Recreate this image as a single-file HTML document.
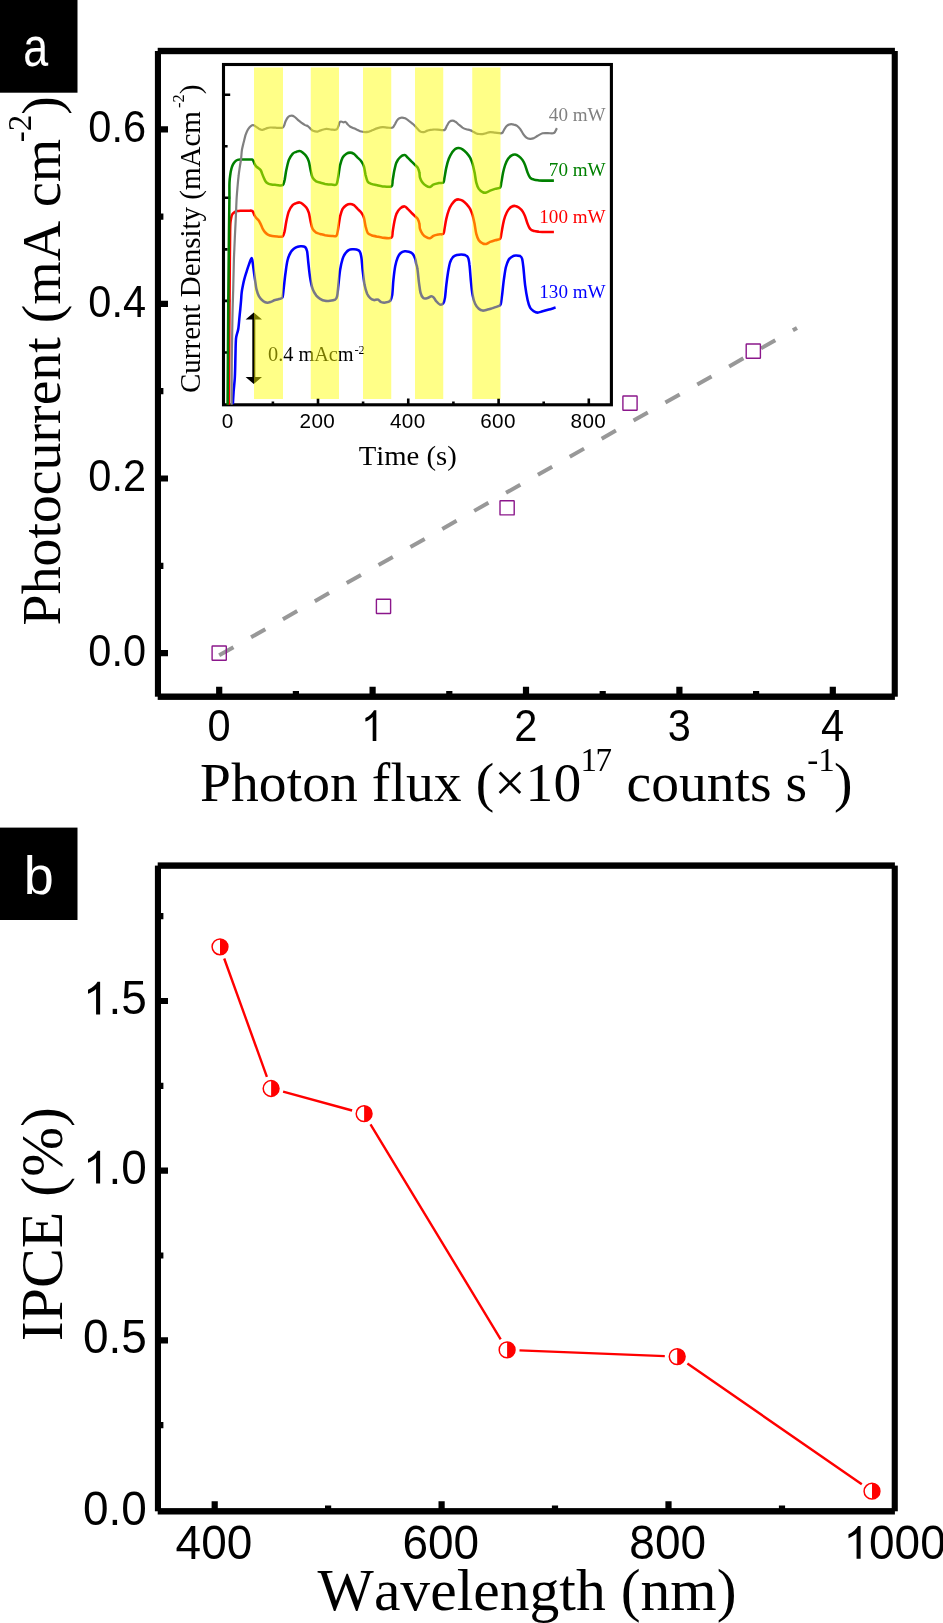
<!DOCTYPE html>
<html><head><meta charset="utf-8"><title>Figure</title>
<style>html,body{margin:0;padding:0;background:#fff}svg{display:block;will-change:transform}text{font-kerning:none}</style></head>
<body>
<svg width="943" height="1623" viewBox="0 0 943 1623">
<rect width="943" height="1623" fill="#fff"/>
<line x1="219.2" y1="655.3" x2="797" y2="328.0" stroke="#989898" stroke-width="4" stroke-dasharray="16.4 20.23"/>
<rect x="212.1" y="646.0" width="14.2" height="14.2" rx="0.5" fill="none" stroke="#8b178b" stroke-width="1.4"/>
<rect x="376.4" y="599.3" width="14.2" height="14.2" rx="0.5" fill="#fff" stroke="#8b178b" stroke-width="1.4"/>
<rect x="500.0" y="500.7" width="14.2" height="14.2" rx="0.5" fill="#fff" stroke="#8b178b" stroke-width="1.4"/>
<rect x="622.9" y="396.0" width="14.2" height="14.2" rx="0.5" fill="#fff" stroke="#8b178b" stroke-width="1.4"/>
<rect x="746.2" y="344.0" width="14.2" height="14.2" rx="0.5" fill="#fff" stroke="#8b178b" stroke-width="1.4"/>
<rect x="223.5" y="64.5" width="387.9" height="340.3" fill="none" stroke="#000" stroke-width="3.1"/>
<path d="M225 94.70H230.2M225 146.25H227.6M225 197.80H230.2M225 249.35H227.6M225 300.90H230.2M225 352.45H227.6M272.90 404V401.6M318.00 404V398.6M363.10 404V401.6M408.25 404V398.6M453.40 404V401.6M498.60 404V398.6M543.70 404V401.6M588.80 404V398.6" stroke="#000" stroke-width="2.6" fill="none"/>
<g fill="none" stroke-width="2.55" stroke-linejoin="round">
<path d="M232.9 404.2C233.0 402.2 233.3 396.4 233.6 392.0C233.9 387.6 234.5 383.0 234.8 378.0C235.1 373.0 235.2 366.9 235.3 362.0C235.4 357.1 235.5 352.4 235.6 348.5C235.7 344.6 235.8 341.2 236.0 338.7C236.2 336.2 236.7 335.1 237.1 333.5C237.5 331.9 237.9 331.2 238.3 328.8C238.7 326.4 239.0 322.3 239.3 319.0C239.6 315.7 240.0 312.2 240.3 309.0C240.6 305.8 240.9 302.8 241.1 300.0C241.3 297.2 241.4 294.8 241.7 292.4C242.0 290.0 242.5 287.6 242.9 285.5C243.3 283.4 243.7 281.5 244.2 279.6C244.7 277.8 245.2 276.0 245.7 274.4C246.2 272.8 246.7 271.3 247.2 269.7C247.7 268.1 248.3 266.2 248.9 264.6C249.5 263.0 250.2 261.0 250.6 259.9C251.0 258.8 251.3 257.9 251.6 257.9C251.9 257.9 252.0 258.0 252.3 260.0C252.6 262.0 253.2 266.4 253.6 269.7C254.0 273.0 254.5 276.3 255.0 279.6C255.5 282.9 255.8 286.6 256.5 289.4C257.2 292.2 257.9 294.3 259.0 296.3C260.1 298.3 262.0 300.1 263.4 301.2C264.8 302.3 265.9 302.6 267.3 302.7C268.7 302.8 270.2 302.0 271.5 301.6C272.8 301.2 273.6 300.5 275.1 300.1C276.5 299.6 278.8 299.3 280.1 298.8C281.3 298.3 281.9 298.9 282.6 297.1C283.2 295.2 283.3 291.6 283.8 287.6C284.3 283.5 284.9 277.1 285.6 272.5C286.2 268.0 286.7 263.4 287.6 260.0C288.4 256.7 289.5 254.4 290.6 252.5C291.6 250.6 292.7 249.7 293.8 248.8C295.0 247.8 296.3 247.2 297.6 246.8C298.8 246.3 300.1 246.2 301.3 246.3C302.6 246.3 304.1 246.2 305.1 247.0C306.0 247.9 306.5 248.7 307.1 251.3C307.6 253.9 307.8 258.2 308.3 262.5C308.8 266.9 309.4 273.2 310.1 277.5C310.8 281.9 311.5 285.8 312.6 288.8C313.6 291.8 315.1 293.9 316.3 295.6C317.6 297.2 318.6 297.9 320.1 298.8C321.6 299.7 323.4 300.5 325.1 300.8C326.8 301.2 328.4 301.0 330.1 300.8C331.8 300.6 333.9 300.3 335.1 299.6C336.3 298.8 336.6 298.7 337.1 296.3C337.7 293.9 337.9 289.4 338.4 285.1C338.9 280.7 339.4 274.4 340.1 270.0C340.8 265.7 341.7 261.6 342.6 258.8C343.5 255.9 344.6 254.5 345.6 253.0C346.7 251.6 347.7 250.6 348.9 250.0C350.0 249.4 351.4 249.4 352.6 249.3C353.9 249.2 355.2 249.2 356.4 249.5C357.6 249.9 358.8 249.9 359.6 251.3C360.5 252.6 360.9 254.4 361.4 257.5C361.9 260.7 362.1 265.5 362.6 270.0C363.2 274.6 363.9 281.1 364.6 285.1C365.4 289.0 366.2 291.6 367.1 293.8C368.1 296.0 369.0 297.0 370.2 298.1C371.3 299.1 372.7 299.8 373.9 300.1C375.2 300.3 376.4 299.2 377.7 299.6C378.9 299.9 380.2 301.6 381.4 302.1C382.7 302.6 383.7 302.8 385.2 302.6C386.6 302.4 389.0 302.1 390.2 300.8C391.3 299.6 391.6 298.5 392.2 295.1C392.7 291.6 392.9 284.8 393.4 280.1C393.9 275.3 394.5 270.0 395.2 266.3C395.9 262.5 396.8 259.7 397.7 257.5C398.6 255.3 399.5 254.1 400.7 253.0C401.8 252.0 403.3 251.5 404.7 251.3C406.1 251.1 407.6 251.4 408.9 251.8C410.3 252.2 411.6 252.6 412.7 253.8C413.7 254.9 414.6 257.1 415.2 258.8C415.8 260.4 415.8 262.1 416.2 263.8C416.6 265.5 417.0 265.7 417.4 268.8C417.9 271.8 418.4 278.1 418.9 282.1C419.5 286.0 419.8 289.9 420.5 292.6C421.2 295.2 422.1 297.2 423.3 298.1C424.4 299.0 426.2 298.4 427.5 298.1C428.8 297.8 430.2 296.4 431.3 296.3C432.3 296.2 432.9 296.7 433.8 297.6C434.6 298.4 435.2 300.2 436.3 301.3C437.3 302.5 438.9 304.2 440.0 304.6C441.2 304.9 442.4 304.5 443.3 303.3C444.1 302.2 444.5 300.6 445.0 297.6C445.5 294.5 445.8 289.2 446.3 285.1C446.8 280.9 447.4 276.3 448.0 272.5C448.7 268.8 449.2 265.1 450.0 262.5C450.9 259.9 451.9 258.3 453.0 257.0C454.2 255.8 455.7 255.4 457.0 255.0C458.4 254.6 460.0 254.5 461.3 254.5C462.6 254.5 463.9 254.5 465.0 255.0C466.2 255.5 467.3 255.9 468.0 257.5C468.8 259.2 469.1 261.3 469.5 265.0C470.0 268.8 470.3 275.0 470.8 280.1C471.3 285.1 471.8 291.1 472.6 295.1C473.3 299.0 474.0 301.5 475.1 303.8C476.1 306.1 477.6 307.7 478.8 308.8C480.1 310.0 481.1 310.5 482.6 310.6C484.0 310.7 485.9 310.0 487.6 309.6C489.2 309.2 490.9 308.6 492.6 308.1C494.2 307.5 496.2 306.9 497.6 306.3C498.9 305.7 499.8 306.5 500.6 304.6C501.3 302.7 501.5 299.2 502.1 295.1C502.6 291.0 503.2 284.6 503.8 280.1C504.5 275.5 505.0 271.0 505.8 267.5C506.7 264.1 507.7 261.4 508.8 259.5C510.0 257.7 511.3 256.9 512.6 256.3C513.8 255.6 515.1 255.6 516.3 255.5C517.6 255.5 519.1 255.5 520.1 256.0C521.1 256.6 521.6 256.9 522.1 258.8C522.6 260.7 522.9 263.2 523.4 267.5C523.9 271.9 524.4 279.6 525.1 285.1C525.8 290.5 526.8 296.3 527.6 300.1C528.4 303.8 529.1 305.7 530.1 307.6C531.2 309.5 532.6 310.5 533.9 311.3C535.1 312.2 536.2 312.6 537.6 312.6C539.1 312.6 540.7 311.8 542.6 311.3C544.5 310.8 546.7 310.2 548.9 309.6C551.0 309.0 554.5 307.9 555.6 307.6" stroke="#0000ff"/>
<path d="M228.9 404.7C229.0 392.2 229.2 353.7 229.3 330.0C229.5 306.3 229.7 278.8 229.8 262.6C229.9 246.4 230.0 239.6 230.1 233.0C230.2 226.4 230.2 225.7 230.4 223.2C230.6 220.7 230.8 219.7 231.1 218.2C231.4 216.7 231.8 215.3 232.3 214.3C232.8 213.3 233.5 212.8 234.3 212.3C235.1 211.8 236.1 211.4 237.3 211.1C238.5 210.8 240.4 210.8 241.7 210.7C243.0 210.6 243.9 210.7 245.0 210.7C246.1 210.7 247.4 210.7 248.5 210.7C249.6 210.7 250.8 210.5 251.6 210.7C252.3 210.9 252.5 211.0 253.0 211.8C253.5 212.6 253.9 214.2 254.5 215.3C255.1 216.4 255.8 217.3 256.5 218.2C257.2 219.1 258.2 219.6 258.9 220.7C259.6 221.8 260.2 223.2 260.9 224.6C261.6 226.0 262.2 227.8 262.9 229.1C263.6 230.4 264.4 231.6 265.3 232.5C266.2 233.4 267.2 234.2 268.3 234.8C269.4 235.4 270.7 235.7 272.2 236.0C273.7 236.3 275.5 236.4 277.2 236.5C278.9 236.6 281.3 237.3 282.6 236.4C283.8 235.6 283.9 233.9 284.6 231.4C285.2 228.9 285.6 224.7 286.3 221.4C287.0 218.1 287.8 214.1 288.8 211.4C289.9 208.7 291.3 206.5 292.6 205.1C293.8 203.8 295.2 203.6 296.3 203.1C297.5 202.7 298.5 202.3 299.6 202.4C300.6 202.5 301.5 203.0 302.6 203.9C303.7 204.8 305.3 206.2 306.3 207.6C307.4 209.1 308.1 210.4 308.8 212.7C309.5 214.9 310.0 218.7 310.6 221.4C311.2 224.1 311.6 227.0 312.6 228.9C313.6 230.8 315.1 231.8 316.3 232.7C317.6 233.5 318.6 233.5 320.1 233.9C321.6 234.3 323.2 234.8 325.1 235.2C327.0 235.5 329.5 235.8 331.4 235.9C333.2 236.0 335.2 236.8 336.4 235.7C337.5 234.5 337.5 232.1 338.1 228.9C338.7 225.7 339.4 219.7 340.1 216.4C340.9 213.1 341.6 210.8 342.6 208.9C343.7 207.0 345.1 206.0 346.4 205.1C347.6 204.3 348.9 203.9 350.1 203.9C351.4 203.9 352.6 204.3 353.9 205.1C355.1 206.0 356.4 207.6 357.6 208.9C358.9 210.1 360.3 211.2 361.4 212.7C362.4 214.1 363.2 215.4 363.9 217.7C364.6 220.0 365.0 223.9 365.6 226.4C366.3 228.9 366.7 231.2 367.6 232.7C368.6 234.1 369.9 234.5 371.4 235.2C372.9 235.8 374.5 236.0 376.4 236.4C378.3 236.8 380.2 237.5 382.7 237.7C385.2 237.9 389.8 238.7 391.4 237.7C393.1 236.6 392.2 234.1 392.7 231.4C393.2 228.7 393.8 224.3 394.4 221.4C395.1 218.5 395.5 216.1 396.4 213.9C397.4 211.7 398.8 209.6 400.2 208.4C401.6 207.1 403.4 206.3 404.7 206.4C405.9 206.5 406.6 207.9 407.7 208.9C408.8 209.9 410.2 211.4 411.4 212.7C412.7 213.9 414.2 215.4 415.2 216.4C416.2 217.4 417.0 217.7 417.7 218.9C418.4 220.2 419.1 222.2 419.4 223.9C419.8 225.6 419.5 227.2 420.0 228.9C420.5 230.6 421.5 232.5 422.5 233.9C423.5 235.3 425.0 236.5 426.3 237.2C427.5 237.9 428.8 238.4 430.0 238.2C431.3 237.9 432.3 236.3 433.8 235.7C435.2 235.0 437.2 234.7 438.8 234.4C440.4 234.1 442.3 234.8 443.3 233.9C444.2 233.0 444.0 231.4 444.5 228.9C445.0 226.4 445.6 222.0 446.3 218.9C447.0 215.8 447.8 212.7 448.8 210.1C449.7 207.6 450.9 205.6 452.0 203.9C453.2 202.2 454.4 200.9 455.5 200.1C456.7 199.4 457.6 199.3 458.8 199.4C460.0 199.5 461.3 199.9 462.5 200.6C463.8 201.4 465.0 202.5 466.3 203.9C467.5 205.3 469.0 207.0 470.1 208.9C471.1 210.8 471.8 212.7 472.6 215.2C473.3 217.7 473.9 220.8 474.6 223.9C475.2 227.0 475.6 231.2 476.3 233.9C477.0 236.6 477.8 238.6 478.8 240.2C479.9 241.8 481.3 242.8 482.6 243.4C483.8 244.1 485.1 244.2 486.3 243.9C487.6 243.7 488.6 242.6 490.1 241.9C491.5 241.3 493.4 240.7 495.1 240.2C496.7 239.7 499.0 240.0 500.1 238.9C501.1 237.9 500.8 236.4 501.3 233.9C501.8 231.4 502.5 226.8 503.1 223.9C503.7 221.0 504.3 218.7 505.1 216.4C505.9 214.1 507.0 211.7 508.1 210.1C509.1 208.6 510.2 207.6 511.3 206.9C512.5 206.2 513.8 205.8 515.1 205.9C516.3 206.0 517.6 206.7 518.8 207.6C520.1 208.6 521.6 209.9 522.6 211.4C523.6 212.9 524.3 214.3 525.1 216.4C525.9 218.5 526.8 221.8 527.6 223.9C528.4 226.0 529.1 227.7 530.1 228.9C531.2 230.1 532.4 230.5 533.9 230.9C535.3 231.4 537.0 231.5 538.9 231.7C540.7 231.8 542.6 231.9 545.1 231.9C547.6 232.0 552.4 231.9 553.9 231.9" stroke="#ff0000"/>
<path d="M227.6 404.7C227.7 387.2 228.1 329.1 228.3 300.0C228.5 270.9 228.8 246.7 229.0 230.0C229.2 213.3 229.3 207.9 229.4 200.0C229.5 192.1 229.3 186.8 229.5 182.4C229.7 178.1 230.1 176.2 230.4 173.9C230.7 171.6 231.0 170.4 231.4 168.8C231.8 167.2 232.3 165.8 232.9 164.6C233.5 163.4 234.2 162.4 235.0 161.6C235.8 160.8 236.6 160.2 237.6 159.9C238.6 159.6 239.8 159.6 241.0 159.5C242.2 159.4 243.2 159.5 244.5 159.5C245.8 159.5 247.2 159.5 248.5 159.5C249.8 159.5 251.2 159.3 252.0 159.5C252.8 159.7 252.9 160.1 253.3 160.8C253.7 161.5 254.0 162.9 254.5 163.8C255.0 164.7 255.5 165.5 256.2 166.3C256.9 167.1 258.0 167.7 258.8 168.4C259.6 169.1 260.3 169.6 260.9 170.5C261.5 171.4 261.7 172.6 262.2 173.9C262.7 175.2 263.4 177.0 264.0 178.2C264.6 179.4 264.9 180.5 265.5 181.3C266.1 182.2 266.8 182.8 267.8 183.3C268.8 183.8 269.9 184.2 271.3 184.5C272.7 184.8 274.3 184.8 276.2 184.9C278.1 185.0 281.2 185.9 282.6 185.1C284.0 184.3 283.9 182.6 284.6 180.1C285.2 177.6 285.6 173.4 286.3 170.1C287.0 166.8 287.8 162.8 288.8 160.1C289.9 157.4 291.3 155.2 292.6 153.8C293.8 152.5 295.2 152.3 296.3 151.8C297.5 151.4 298.5 151.0 299.6 151.1C300.6 151.2 301.5 151.7 302.6 152.6C303.7 153.5 305.3 154.9 306.3 156.3C307.4 157.8 308.1 159.1 308.8 161.4C309.5 163.6 310.0 167.4 310.6 170.1C311.2 172.8 311.6 175.7 312.6 177.6C313.6 179.5 315.1 180.5 316.3 181.4C317.6 182.2 318.6 182.2 320.1 182.6C321.6 183.0 323.2 183.5 325.1 183.9C327.0 184.2 329.5 184.5 331.4 184.6C333.2 184.7 335.2 185.5 336.4 184.4C337.5 183.2 337.5 180.8 338.1 177.6C338.7 174.4 339.4 168.4 340.1 165.1C340.9 161.8 341.6 159.5 342.6 157.6C343.7 155.7 345.1 154.7 346.4 153.8C347.6 153.0 348.9 152.6 350.1 152.6C351.4 152.6 352.6 153.0 353.9 153.8C355.1 154.7 356.4 156.3 357.6 157.6C358.9 158.8 360.3 159.9 361.4 161.4C362.4 162.8 363.2 164.1 363.9 166.4C364.6 168.7 365.0 172.6 365.6 175.1C366.3 177.6 366.7 179.9 367.6 181.4C368.6 182.8 369.9 183.2 371.4 183.9C372.9 184.5 374.5 184.7 376.4 185.1C378.3 185.5 380.2 186.2 382.7 186.4C385.2 186.6 389.8 187.4 391.4 186.4C393.1 185.3 392.2 182.8 392.7 180.1C393.2 177.4 393.8 173.0 394.4 170.1C395.1 167.2 395.5 164.8 396.4 162.6C397.4 160.4 398.8 158.3 400.2 157.1C401.6 155.8 403.4 155.0 404.7 155.1C405.9 155.2 406.6 156.6 407.7 157.6C408.8 158.6 410.2 160.1 411.4 161.4C412.7 162.6 414.2 164.1 415.2 165.1C416.2 166.1 417.0 166.4 417.7 167.6C418.4 168.9 419.1 170.9 419.4 172.6C419.8 174.3 419.5 175.9 420.0 177.6C420.5 179.3 421.5 181.2 422.5 182.6C423.5 184.0 425.0 185.2 426.3 185.9C427.5 186.6 428.8 187.1 430.0 186.9C431.3 186.6 432.3 185.0 433.8 184.4C435.2 183.7 437.2 183.4 438.8 183.1C440.4 182.8 442.3 183.5 443.3 182.6C444.2 181.7 444.0 180.1 444.5 177.6C445.0 175.1 445.6 170.7 446.3 167.6C447.0 164.5 447.8 161.4 448.8 158.8C449.7 156.3 450.9 154.3 452.0 152.6C453.2 150.9 454.4 149.6 455.5 148.8C456.7 148.1 457.6 148.0 458.8 148.1C460.0 148.2 461.3 148.6 462.5 149.3C463.8 150.1 465.0 151.2 466.3 152.6C467.5 154.0 469.0 155.7 470.1 157.6C471.1 159.5 471.8 161.4 472.6 163.9C473.3 166.4 473.9 169.5 474.6 172.6C475.2 175.7 475.6 179.9 476.3 182.6C477.0 185.3 477.8 187.3 478.8 188.9C479.9 190.5 481.3 191.5 482.6 192.1C483.8 192.8 485.1 192.9 486.3 192.6C487.6 192.4 488.6 191.3 490.1 190.6C491.5 190.0 493.4 189.4 495.1 188.9C496.7 188.4 499.0 188.7 500.1 187.6C501.1 186.6 500.8 185.1 501.3 182.6C501.8 180.1 502.5 175.5 503.1 172.6C503.7 169.7 504.3 167.4 505.1 165.1C505.9 162.8 507.0 160.4 508.1 158.8C509.1 157.3 510.2 156.3 511.3 155.6C512.5 154.9 513.8 154.5 515.1 154.6C516.3 154.7 517.6 155.4 518.8 156.3C520.1 157.3 521.6 158.6 522.6 160.1C523.6 161.6 524.3 163.0 525.1 165.1C525.9 167.2 526.8 170.5 527.6 172.6C528.4 174.7 529.1 176.4 530.1 177.6C531.2 178.8 532.4 179.2 533.9 179.6C535.3 180.1 537.0 180.2 538.9 180.4C540.7 180.5 542.6 180.6 545.1 180.6C547.6 180.7 552.4 180.6 553.9 180.6" stroke="#008000"/>
<path d="M231.6 404.7C231.6 397.5 231.7 375.8 231.8 361.7C231.9 347.6 232.2 331.9 232.4 320.0C232.6 308.1 232.9 300.0 233.2 290.0C233.4 280.0 233.7 266.9 233.9 259.9C234.1 252.9 234.2 253.1 234.4 247.8C234.6 242.5 235.0 233.8 235.3 228.1C235.6 222.3 235.8 218.4 236.0 213.3C236.2 208.2 236.4 202.0 236.7 197.3C237.0 192.6 237.4 188.6 237.7 185.0C238.0 181.4 238.2 179.0 238.6 176.0C238.9 173.0 239.4 169.8 239.8 167.0C240.2 164.2 240.6 162.3 241.0 159.5C241.4 156.7 241.5 152.7 241.9 150.0C242.4 147.3 242.9 145.5 243.5 143.1C244.1 140.7 244.8 137.6 245.4 135.4C246.1 133.3 246.7 131.8 247.4 130.4C248.1 129.0 248.8 128.1 249.6 127.2C250.4 126.3 251.4 125.6 252.1 125.3C252.8 125.0 253.0 125.0 253.7 125.3C254.4 125.6 255.3 126.3 256.3 126.9C257.3 127.5 258.5 128.6 259.4 129.1C260.4 129.6 261.2 130.0 262.0 130.0C262.8 130.0 263.6 129.4 264.5 129.1C265.4 128.8 266.1 128.4 267.1 128.1C268.1 127.8 268.9 127.6 270.3 127.5C271.7 127.4 273.4 127.6 275.4 127.7C277.3 127.8 280.6 128.1 282.0 127.9C283.4 127.7 283.2 127.4 283.8 126.3C284.4 125.2 284.9 122.9 285.6 121.3C286.3 119.8 287.1 118.0 288.1 117.1C289.0 116.1 290.3 115.6 291.3 115.6C292.4 115.5 293.3 115.9 294.3 116.6C295.4 117.2 296.4 118.6 297.6 119.6C298.7 120.6 300.1 121.6 301.3 122.6C302.6 123.5 304.0 124.4 305.1 125.1C306.2 125.7 307.2 125.7 308.1 126.3C309.0 126.9 309.8 128.1 310.6 128.8C311.4 129.6 311.9 130.4 313.1 130.8C314.3 131.3 316.2 131.7 317.6 131.6C319.0 131.4 319.9 130.5 321.4 130.1C322.8 129.6 324.7 128.9 326.4 128.8C328.0 128.7 329.7 129.4 331.4 129.6C333.0 129.7 335.2 130.1 336.4 129.6C337.5 129.0 337.8 127.5 338.4 126.3C338.9 125.1 339.2 123.1 339.6 122.3C340.1 121.5 340.5 121.5 341.1 121.5C341.8 121.5 342.9 122.2 343.6 122.3C344.4 122.4 345.0 121.6 345.6 122.0C346.3 122.3 347.0 123.6 347.6 124.3C348.3 125.0 348.6 125.5 349.6 126.2C350.7 126.9 352.6 127.7 353.9 128.3C355.1 128.9 356.1 129.3 357.1 129.8C358.2 130.3 358.8 130.8 360.1 131.2C361.5 131.6 363.7 132.0 365.1 132.1C366.6 132.1 367.6 131.9 368.9 131.6C370.2 131.2 371.2 130.7 372.7 130.1C374.1 129.5 376.0 128.6 377.7 128.1C379.3 127.6 381.0 127.2 382.7 127.1C384.3 127.0 386.0 127.5 387.7 127.6C389.3 127.7 391.4 128.2 392.7 127.6C393.9 126.9 394.3 125.1 395.2 123.8C396.0 122.5 396.6 120.6 397.7 119.6C398.7 118.5 400.2 117.8 401.4 117.6C402.7 117.3 403.9 117.8 405.2 118.3C406.4 118.9 407.7 119.9 408.9 120.8C410.2 121.7 411.4 122.7 412.7 123.8C413.9 124.9 415.2 126.3 416.4 127.6C417.7 128.8 418.8 130.6 420.0 131.3C421.2 132.1 422.5 132.2 423.8 132.1C425.0 131.9 426.0 131.0 427.5 130.6C429.0 130.2 430.8 129.7 432.5 129.6C434.2 129.4 435.8 129.5 437.5 129.6C439.2 129.7 441.3 130.1 442.5 130.1C443.8 130.1 444.3 130.3 445.0 129.6C445.8 128.8 446.3 126.9 447.0 125.6C447.8 124.3 448.6 122.6 449.5 121.8C450.4 121.0 451.5 120.6 452.5 120.6C453.5 120.6 454.5 121.1 455.5 121.8C456.6 122.5 457.6 123.6 458.8 124.6C460.0 125.5 461.3 126.8 462.5 127.6C463.8 128.4 465.0 128.9 466.3 129.3C467.5 129.7 468.8 129.6 470.1 130.1C471.3 130.5 472.6 131.4 473.8 132.1C475.1 132.7 476.1 133.5 477.6 133.8C479.0 134.2 481.1 134.2 482.6 134.1C484.0 133.9 485.1 133.4 486.3 133.1C487.6 132.7 488.6 132.2 490.1 132.1C491.5 132.0 493.3 132.4 495.1 132.6C496.8 132.8 499.3 133.3 500.6 133.3C501.8 133.3 501.9 133.3 502.6 132.6C503.2 131.8 503.8 130.0 504.6 128.8C505.3 127.7 506.2 126.3 507.1 125.6C508.0 124.8 509.0 124.5 510.1 124.3C511.2 124.1 512.7 124.3 513.8 124.6C515.0 124.8 516.1 125.1 517.1 125.8C518.1 126.5 519.1 127.5 520.1 128.8C521.1 130.2 522.1 132.4 523.1 133.8C524.1 135.3 525.2 136.7 526.4 137.6C527.5 138.4 528.9 138.7 530.1 138.8C531.4 138.9 532.6 138.6 533.9 138.1C535.1 137.6 536.2 136.6 537.6 135.8C539.1 135.0 541.0 133.8 542.6 133.3C544.3 132.9 545.8 133.1 547.6 133.1C549.5 133.0 552.3 133.9 553.9 133.1C555.4 132.2 556.4 128.9 556.9 128.1" stroke="#808080" stroke-width="2.2"/>
</g>
<path d="M253.8 318V378" stroke="#000" stroke-width="3" fill="none"/>
<path d="M253.8 312.6L262 319.6H245.6Z M253.8 384L262 377H245.6Z" fill="#000"/>
<text transform="translate(268.00 360.80)" font-family="'Liberation Serif',serif" font-size="20.3" text-anchor="start" fill="#000">0.4 mAcm<tspan font-size="12.5" dy="-7" dx="0.8">-2</tspan></text>
<rect x="254.00" y="67.5" width="29.00" height="331.5" fill="#ffff00" fill-opacity="0.47"/>
<rect x="310.75" y="67.5" width="28.25" height="331.5" fill="#ffff00" fill-opacity="0.47"/>
<rect x="363.00" y="67.5" width="28.25" height="331.5" fill="#ffff00" fill-opacity="0.47"/>
<rect x="415.00" y="67.5" width="28.25" height="331.5" fill="#ffff00" fill-opacity="0.47"/>
<rect x="472.25" y="67.5" width="28.25" height="331.5" fill="#ffff00" fill-opacity="0.47"/>
<text transform="translate(227.60 427.50)" font-family="'Liberation Sans',sans-serif" font-size="20.7" text-anchor="middle" fill="#000" letter-spacing="0.35">0</text>
<text transform="translate(317.40 427.50)" font-family="'Liberation Sans',sans-serif" font-size="20.7" text-anchor="middle" fill="#000" letter-spacing="0.35">200</text>
<text transform="translate(407.80 427.50)" font-family="'Liberation Sans',sans-serif" font-size="20.7" text-anchor="middle" fill="#000" letter-spacing="0.35">400</text>
<text transform="translate(498.00 427.50)" font-family="'Liberation Sans',sans-serif" font-size="20.7" text-anchor="middle" fill="#000" letter-spacing="0.35">600</text>
<text transform="translate(588.40 427.50)" font-family="'Liberation Sans',sans-serif" font-size="20.7" text-anchor="middle" fill="#000" letter-spacing="0.35">800</text>
<text transform="translate(358.70 465.30) scale(1.015 1)" font-family="'Liberation Serif',serif" font-size="28.3" text-anchor="start" fill="#000">Time (s)</text>
<text transform="translate(200.30 393.00) rotate(-90)" font-family="'Liberation Serif',serif" font-size="29" text-anchor="start" fill="#000">Current Density (mAcm<tspan font-size="16.5" dy="-16.6" dx="3">-2</tspan><tspan dy="16.6">)</tspan></text>
<text transform="translate(605.60 120.50)" font-family="'Liberation Serif',serif" font-size="19.1" text-anchor="end" fill="#808080">40 mW</text>
<text transform="translate(605.60 176.30)" font-family="'Liberation Serif',serif" font-size="19.1" text-anchor="end" fill="#008000">70 mW</text>
<text transform="translate(605.60 223.00)" font-family="'Liberation Serif',serif" font-size="19.1" text-anchor="end" fill="#ff0000">100 mW</text>
<text transform="translate(605.60 298.00)" font-family="'Liberation Serif',serif" font-size="19.1" text-anchor="end" fill="#0000ff">130 mW</text>
<g fill="#000">
<rect x="157.7" y="47.8" width="737.2" height="6.4"/>
<rect x="157.7" y="693.5" width="737.2" height="6.4"/>
<rect x="154.9" y="51.0" width="6.1" height="645.7"/>
<rect x="891.7" y="51.0" width="6.1" height="645.7"/>
</g>
<path d="M160 653.2H168.0M160 565.9H163.4M160 478.5H168.0M160 391.2H163.4M160 303.9H168.0M160 216.6H163.4M160 129.3H168.0M219.2 695V686.8M295.9 695V691.0M372.6 695V686.8M449.3 695V691.0M526.0 695V686.8M602.7 695V691.0M679.4 695V686.8M756.1 695V691.0M832.8 695V686.8" stroke="#000" stroke-width="6.2" fill="none"/>
<g transform="translate(146.00 665.90) scale(0.935 1)" fill="#000">
<text font-family="'Liberation Sans',sans-serif" font-size="44.4" x="-61.72 -37.03 -24.69" y="0" xml:space="preserve" style="white-space:pre">0.0</text>
</g>
<g transform="translate(146.00 491.20) scale(0.935 1)" fill="#000">
<text font-family="'Liberation Sans',sans-serif" font-size="44.4" x="-61.72 -37.03 -24.69" y="0" xml:space="preserve" style="white-space:pre">0.2</text>
</g>
<g transform="translate(146.00 316.60) scale(0.935 1)" fill="#000">
<text font-family="'Liberation Sans',sans-serif" font-size="44.4" x="-61.72 -37.03 -24.69" y="0" xml:space="preserve" style="white-space:pre">0.4</text>
</g>
<g transform="translate(146.00 142.00) scale(0.935 1)" fill="#000">
<text font-family="'Liberation Sans',sans-serif" font-size="44.4" x="-61.72 -37.03 -24.69" y="0" xml:space="preserve" style="white-space:pre">0.6</text>
</g>
<g transform="translate(219.00 741.00) scale(0.935 1)" fill="#000">
<text font-family="'Liberation Sans',sans-serif" font-size="44.4" x="-12.34" y="0" xml:space="preserve" style="white-space:pre">0</text>
</g>
<g transform="translate(372.40 741.00) scale(0.935 1)" fill="#000">
<path transform="translate(-12.34 0) scale(0.02168 -0.02086)" d="M763 0L583 0L583 1147Q518 1085 412.5 1023Q307 961 223 930L223 1104Q374 1175 487 1276Q600 1377 647 1472L763 1472Z"/>
</g>
<g transform="translate(525.80 741.00) scale(0.935 1)" fill="#000">
<text font-family="'Liberation Sans',sans-serif" font-size="44.4" x="-12.34" y="0" xml:space="preserve" style="white-space:pre">2</text>
</g>
<g transform="translate(679.20 741.00) scale(0.935 1)" fill="#000">
<text font-family="'Liberation Sans',sans-serif" font-size="44.4" x="-12.34" y="0" xml:space="preserve" style="white-space:pre">3</text>
</g>
<g transform="translate(832.60 741.00) scale(0.935 1)" fill="#000">
<text font-family="'Liberation Sans',sans-serif" font-size="44.4" x="-12.34" y="0" xml:space="preserve" style="white-space:pre">4</text>
</g>
<text transform="translate(200.00 800.70)" font-family="'Liberation Serif',serif" font-size="55.5" text-anchor="start" fill="#000" letter-spacing="0.1">Photon flux (×10</text>
<text transform="translate(580.50 771.40)" font-family="'Liberation Serif',serif" font-size="33" text-anchor="start" fill="#000" letter-spacing="-1.5">17</text>
<text transform="translate(626.60 800.70)" font-family="'Liberation Serif',serif" font-size="55.5" text-anchor="start" fill="#000">counts s</text>
<text transform="translate(807.20 771.00)" font-family="'Liberation Serif',serif" font-size="33" text-anchor="start" fill="#000">-1</text>
<text transform="translate(834.00 800.70)" font-family="'Liberation Serif',serif" font-size="55.5" text-anchor="start" fill="#000">)</text>
<text transform="translate(60.00 625.40) rotate(-90)" font-family="'Liberation Serif',serif" font-size="55.8" text-anchor="start" fill="#000">Photocurrent (mA cm<tspan font-size="33" dy="-29.5" dx="-3.5">-2</tspan><tspan dy="29.5">)</tspan></text>
<rect x="0" y="0" width="77.5" height="92.7" fill="#000"/>
<text transform="translate(35.60 66.20) scale(0.8 1)" font-family="'Liberation Sans',sans-serif" font-size="56" text-anchor="middle" fill="#fff">a</text>
<path d="M224.2 958.5L266.9 1076.8M283.1 1091.7L352.1 1110.5M370.5 1124.3L500.7 1339.3M519.5 1350.4L664.8 1356.1M687.4 1363.6L861.8 1484.2" stroke="#ff0000" stroke-width="2.4" fill="none"/>
<circle cx="220.0" cy="946.8" r="7.9" fill="#fff" stroke="#ff0000" stroke-width="1.5"/>
<path d="M220.0 938.9A7.9 7.9 0 0 1 220.0 954.7Z" fill="#ff0000"/>
<circle cx="271.1" cy="1088.5" r="7.9" fill="#fff" stroke="#ff0000" stroke-width="1.5"/>
<path d="M271.1 1080.6A7.9 7.9 0 0 1 271.1 1096.4Z" fill="#ff0000"/>
<circle cx="364.1" cy="1113.7" r="7.9" fill="#fff" stroke="#ff0000" stroke-width="1.5"/>
<path d="M364.1 1105.8A7.9 7.9 0 0 1 364.1 1121.6Z" fill="#ff0000"/>
<circle cx="507.1" cy="1349.9" r="7.9" fill="#fff" stroke="#ff0000" stroke-width="1.5"/>
<path d="M507.1 1342.0A7.9 7.9 0 0 1 507.1 1357.8Z" fill="#ff0000"/>
<circle cx="677.2" cy="1356.6" r="7.9" fill="#fff" stroke="#ff0000" stroke-width="1.5"/>
<path d="M677.2 1348.7A7.9 7.9 0 0 1 677.2 1364.5Z" fill="#ff0000"/>
<circle cx="872.0" cy="1491.2" r="7.9" fill="#fff" stroke="#ff0000" stroke-width="1.5"/>
<path d="M872.0 1483.3A7.9 7.9 0 0 1 872.0 1499.1Z" fill="#ff0000"/>
<g fill="#000">
<rect x="157.7" y="862.4" width="737.2" height="6.4"/>
<rect x="157.7" y="1508.1" width="737.2" height="6.4"/>
<rect x="154.9" y="865.6" width="6.1" height="645.7"/>
<rect x="891.7" y="865.6" width="6.1" height="645.7"/>
</g>
<path d="M160 1425.2H163.4M160 1340.3H168.0M160 1255.5H163.4M160 1170.7H168.0M160 1085.8H163.4M160 1001.0H168.0M160 916.2H163.4M214.7 1510V1501.2M328.1 1510V1505.6M441.6 1510V1501.2M555.0 1510V1505.6M668.5 1510V1501.2M782.0 1510V1505.6" stroke="#000" stroke-width="6.2" fill="none"/>
<g transform="translate(146.90 1524.60) scale(0.972 1)" fill="#000">
<text font-family="'Liberation Sans',sans-serif" font-size="47.3" x="-65.75 -39.45 -26.30" y="0" xml:space="preserve" style="white-space:pre">0.0</text>
</g>
<g transform="translate(146.90 1353.20) scale(0.972 1)" fill="#000">
<text font-family="'Liberation Sans',sans-serif" font-size="47.3" x="-65.75 -39.45 -26.30" y="0" xml:space="preserve" style="white-space:pre">0.5</text>
</g>
<g transform="translate(146.90 1183.50) scale(0.972 1)" fill="#000">
<text font-family="'Liberation Sans',sans-serif" font-size="47.3" x="-65.75 -39.45 -26.30" y="0" xml:space="preserve" style="white-space:pre"> .0</text>
<path transform="translate(-65.75 0) scale(0.02310 -0.02222)" d="M763 0L583 0L583 1147Q518 1085 412.5 1023Q307 961 223 930L223 1104Q374 1175 487 1276Q600 1377 647 1472L763 1472Z"/>
</g>
<g transform="translate(146.90 1014.40) scale(0.972 1)" fill="#000">
<text font-family="'Liberation Sans',sans-serif" font-size="47.3" x="-65.75 -39.45 -26.30" y="0" xml:space="preserve" style="white-space:pre"> .5</text>
<path transform="translate(-65.75 0) scale(0.02310 -0.02222)" d="M763 0L583 0L583 1147Q518 1085 412.5 1023Q307 961 223 930L223 1104Q374 1175 487 1276Q600 1377 647 1472L763 1472Z"/>
</g>
<g transform="translate(213.90 1558.80) scale(0.972 1)" fill="#000">
<text font-family="'Liberation Sans',sans-serif" font-size="47.3" x="-39.45 -13.15 13.15" y="0" xml:space="preserve" style="white-space:pre">400</text>
</g>
<g transform="translate(440.80 1558.80) scale(0.972 1)" fill="#000">
<text font-family="'Liberation Sans',sans-serif" font-size="47.3" x="-39.45 -13.15 13.15" y="0" xml:space="preserve" style="white-space:pre">600</text>
</g>
<g transform="translate(667.70 1558.80) scale(0.972 1)" fill="#000">
<text font-family="'Liberation Sans',sans-serif" font-size="47.3" x="-39.45 -13.15 13.15" y="0" xml:space="preserve" style="white-space:pre">800</text>
</g>
<g transform="translate(894.60 1558.80) scale(0.972 1)" fill="#000">
<text font-family="'Liberation Sans',sans-serif" font-size="47.3" x="-52.60 -26.30 0.00 26.30" y="0" xml:space="preserve" style="white-space:pre"> 000</text>
<path transform="translate(-52.60 0) scale(0.02310 -0.02222)" d="M763 0L583 0L583 1147Q518 1085 412.5 1023Q307 961 223 930L223 1104Q374 1175 487 1276Q600 1377 647 1472L763 1472Z"/>
</g>
<text transform="translate(317.60 1609.50)" font-family="'Liberation Serif',serif" font-size="59.65" text-anchor="start" fill="#000">Wavelength (nm)</text>
<text transform="translate(62.30 1341.20) rotate(-90)" font-family="'Liberation Serif',serif" font-size="59.8" text-anchor="start" fill="#000">IPCE (%)</text>
<rect x="0" y="827.6" width="77.5" height="92.4" fill="#000"/>
<text transform="translate(38.70 893.60)" font-family="'Liberation Sans',sans-serif" font-size="54" text-anchor="middle" fill="#fff">b</text>
</svg>
</body></html>
